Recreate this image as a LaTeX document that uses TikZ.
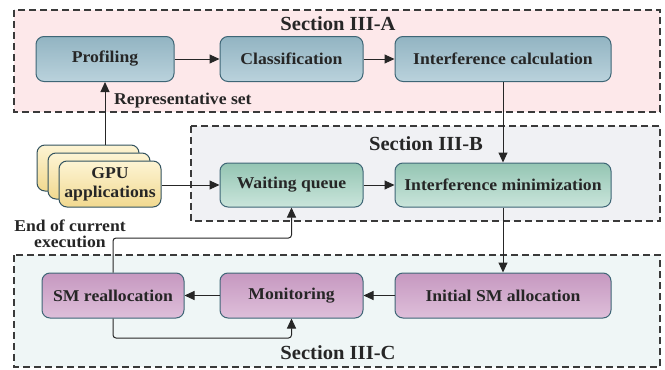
\documentclass[tikz,border=0pt]{standalone}
\usepackage{fontspec}
\setmainfont{Liberation Serif}
\newfontfamily\boxfont{Liberation Serif}[FakeStretch=1.07]
\newfontfamily\titlefont{Liberation Serif}[FakeStretch=1.03]
\usetikzlibrary{arrows.meta,positioning}
\definecolor{secAfill}{HTML}{FDE8EA}
\definecolor{secBfill}{HTML}{F0F1F4}
\definecolor{secCfill}{HTML}{EFF6F6}
\definecolor{bluetop}{HTML}{92B4C2}
\definecolor{bluebot}{HTML}{BAD2DC}
\definecolor{greentop}{HTML}{94C5B3}
\definecolor{greenbot}{HTML}{CAE5DB}
\definecolor{purptop}{HTML}{C698C0}
\definecolor{purpbot}{HTML}{DEBFDA}
\definecolor{yeltop}{HTML}{FDF4D4}
\definecolor{yelbot}{HTML}{F1D98F}
\definecolor{boxborder}{HTML}{3E6676}
\definecolor{dashcol}{HTML}{3A3A3A}
\tikzset{
  section/.style={draw=dashcol, line width=1.1pt, dash pattern=on 7pt off 4pt},
  sectitle/.style={font=\titlefont\fontsize{20}{23}\selectfont\bfseries, text=black!85},
  basebox/.style={rounded corners=8pt, draw=boxborder, line width=1pt,
    font=\boxfont\fontsize{16.5}{18}\selectfont\bfseries, text=black!85,
    minimum height=45pt, inner sep=2pt},
  bluebox/.style={basebox, top color=bluetop, bottom color=bluebot},
  greenbox/.style={basebox, top color=greentop, bottom color=greenbot},
  purpbox/.style={basebox, top color=purptop, bottom color=purpbot},
  gpucard/.style={basebox, top color=yeltop, bottom color=yelbot, draw=boxborder!80!black,
    minimum width=102pt, minimum height=46pt, align=center,
    font=\boxfont\fontsize{16.5}{19}\selectfont\bfseries},
  lbl/.style={font=\boxfont\fontsize{16.5}{16}\selectfont\bfseries, text=black!85, inner sep=0pt},
  arr/.style={-{Triangle[length=10pt,width=9pt]}, line width=1pt, black!85},
}
\begin{document}
\begin{tikzpicture}[x=1pt,y=-1pt]
\useasboundingbox (0,0) rectangle (665,370);
% sections
\draw[section, fill=secAfill] (14,10) rectangle (660,112);
\draw[section, fill=secBfill] (191,126) rectangle (660,221);
\draw[section, fill=secCfill] (14,255) rectangle (660,367);
\node[sectitle] (tA) at (338,24) {Section III-A};
\node[sectitle] (tB) at (426,144) {Section III-B};
\node[sectitle] (tC) at (338,353) {Section III-C};
% top row
\node[bluebox, minimum width=138pt] (prof) at (105,59) {Profiling};
\node[bluebox, minimum width=143pt] (cls) at (291.5,59) {Classification};
\node[bluebox, minimum width=216pt] (icalc) at (503,59) {Interference calculation};
% middle row
\node[greenbox, minimum width=143pt, minimum height=44pt] (wq) at (291.5,185) {Waiting queue};
\node[greenbox, minimum width=216pt, minimum height=44pt] (imin) at (503,185) {Interference minimization};
% bottom row
\node[purpbox, minimum width=142pt] (smr) at (113,295.5) {SM reallocation};
\node[purpbox, minimum width=143pt] (mon) at (291.5,295.5) {Monitoring};
\node[purpbox, minimum width=216pt] (isa) at (503,295.5) {Initial SM allocation};
% GPU applications cards
\node[gpucard] (g1) at (88,168) {};
\node[gpucard] (g2) at (99,176) {};
\node[gpucard] (g3) at (110,184) {GPU\\applications};
% labels
\node[lbl, anchor=west] (rep) at (114,101) {Representative set};
\node[lbl, align=center] (eoc) at (70,234) {End of current\\execution};
% connectors
\draw[arr] (g1.north -| prof.south) -- (prof.south);
\draw[arr] (prof) -- (cls);
\draw[arr] (cls) -- (icalc);
\draw[arr] (icalc.south) -- (imin.north);
\draw[arr] (g3.east |- wq) -- (wq);
\draw[arr] (wq) -- (imin);
\draw[arr] (imin.south) -- (isa.north);
\draw[arr] (isa) -- (mon);
\draw[arr] (mon) -- (smr);
\coordinate (c1) at (113,238);
\coordinate (c2) at (113,338);
\draw[arr, rounded corners=3pt] (smr.north) -- (c1) -- (c1 -| wq.south) -- (wq.south);
\draw[arr, rounded corners=3pt] (smr.south) -- (c2) -- (c2 -| mon.south) -- (mon.south);
\end{tikzpicture}
\end{document}
